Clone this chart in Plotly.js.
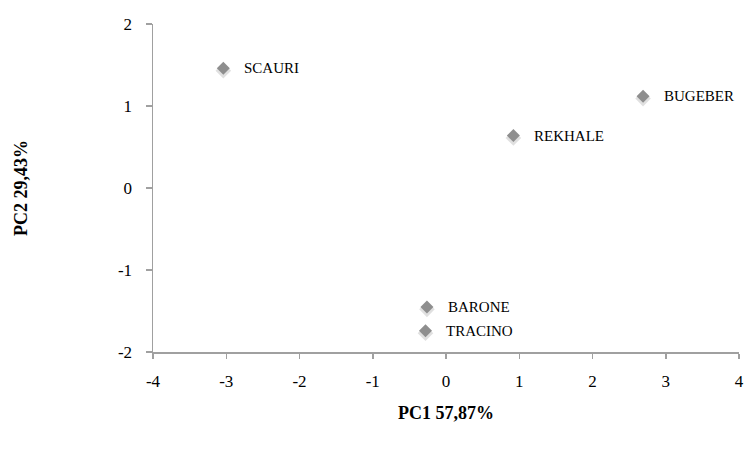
<!DOCTYPE html>
<html>
<head>
<meta charset="utf-8">
<script src="https://cdn.plot.ly/plotly-3.0.1.min.js"></script>
<style>html,body{margin:0;padding:0;background:#fff;}#chart{width:747px;height:450px;}</style>
</head>
<body>
<div id="chart"></div>
<script>
const names = ["SCAURI", "BUGEBER", "REKHALE", "BARONE", "TRACINO"];
const pc1 = [-3.04, 2.69, 0.92, -0.26, -0.28];
const pc2 = [1.46, 1.12, 0.64, -1.45, -1.74];
const xTicks = [-4, -3, -2, -1, 0, 1, 2, 3, 4];
const yTicks = [-2, -1, 0, 1, 2];

const font = "Liberation Serif, DejaVu Serif, serif";

const shadow = {
  x: pc1, y: pc2.map(v => v - 0.03), mode: "markers", type: "scatter", hoverinfo: "skip",
  marker: {symbol: "diamond", size: 12, color: "rgba(0,0,0,0.12)"}
};
const trace = {
  x: pc1, y: pc2, mode: "markers", type: "scatter",
  marker: {symbol: "diamond", size: 10, color: "#8e8e8e"},
  text: names
};

const annotations = names.map((n, i) => ({
  x: pc1[i], y: pc2[i], xref: "x", yref: "y", text: n, showarrow: false,
  xanchor: "left", yanchor: "middle", xshift: 19,
  font: {family: font, size: 15, color: "#000"}
}));

const layout = {
  width: 747, height: 450,
  margin: {l: 153, r: 8, t: 24, b: 98},
  paper_bgcolor: "#fff", plot_bgcolor: "#fff",
  showlegend: false,
  font: {family: font, size: 16, color: "#000"},
  xaxis: {
    range: [-4, 4], tickvals: xTicks, ticktext: xTicks.map(String),
    showgrid: false, zeroline: false, showline: true, linecolor: "#a0a0a0", linewidth: 1.5,
    ticks: "outside", ticklen: 5, tickcolor: "#a0a0a0", tickwidth: 1.5,
    ticklabelstandoff: 8,
    tickfont: {family: font, size: 17},
    title: {text: "<b>PC1 57,87%</b>", font: {family: font, size: 18}, standoff: 16}
  },
  yaxis: {
    range: [-2, 2], tickvals: yTicks, ticktext: yTicks.map(String),
    showgrid: false, zeroline: false, showline: true, linecolor: "#a0a0a0", linewidth: 1.5,
    ticks: "outside", ticklen: 6, tickcolor: "#a0a0a0", tickwidth: 1.5,
    ticklabelstandoff: 10,
    tickfont: {family: font, size: 17},
    title: {text: "<b>PC2 29,43%</b>", font: {family: font, size: 18}, standoff: 85}
  },
  annotations: annotations
};

Plotly.newPlot("chart", [shadow, trace], layout, {displayModeBar: false, staticPlot: true});
</script>
</body>
</html>
